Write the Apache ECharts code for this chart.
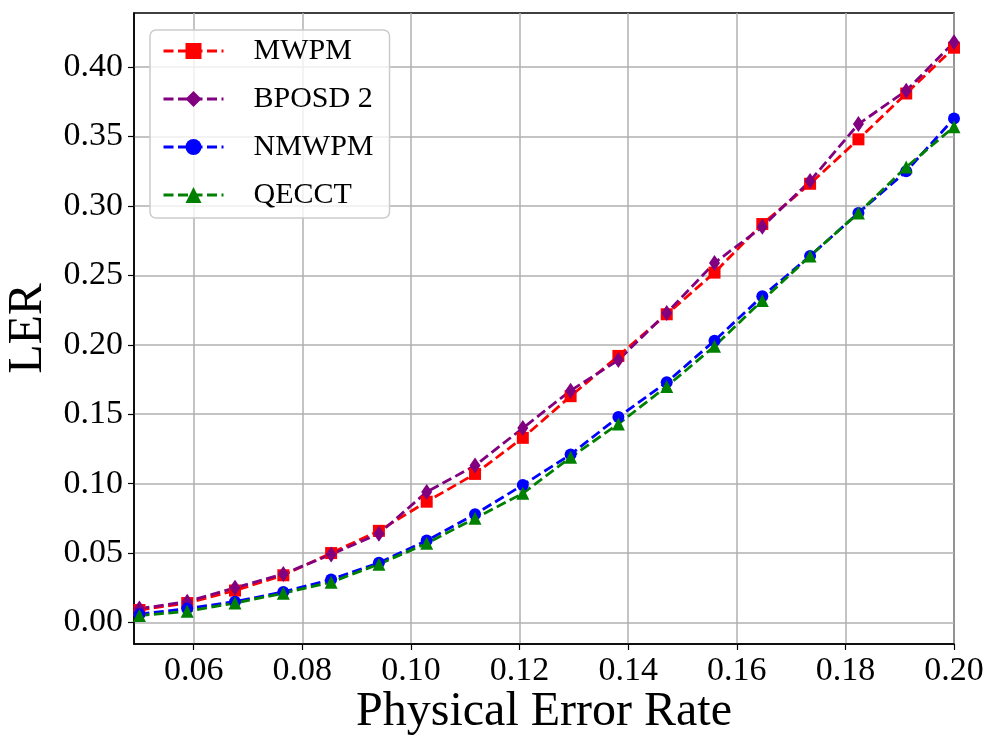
<!DOCTYPE html>
<html>
<head>
<meta charset="utf-8">
<script src="https://cdn.jsdelivr.net/npm/echarts@6/dist/echarts.min.js"></script>
<style>
html,body{margin:0;padding:0;background:#fff;}
#chart{width:997px;height:750px;}
</style>
</head>
<body>
<div id="chart"></div>
<script>
var errorRates = [0.05, 0.0588, 0.0676, 0.0765, 0.0853, 0.0941, 0.1029, 0.1118, 0.1206, 0.1294, 0.1382, 0.1471, 0.1559, 0.1647, 0.1735, 0.1824, 0.1912, 0.2];
var mwpm   = [0.009, 0.014, 0.023, 0.034, 0.050, 0.066, 0.087, 0.107, 0.133, 0.163, 0.192, 0.222, 0.252, 0.287, 0.316, 0.348, 0.381, 0.414];
var bposd2 = [0.010, 0.015, 0.025, 0.035, 0.049, 0.064, 0.094, 0.113, 0.140, 0.167, 0.189, 0.223, 0.259, 0.285, 0.318, 0.359, 0.383, 0.418];
var nmwpm  = [0.006, 0.010, 0.015, 0.022, 0.031, 0.043, 0.059, 0.078, 0.099, 0.121, 0.148, 0.173, 0.203, 0.235, 0.264, 0.295, 0.325, 0.363];
var qecct  = [0.005, 0.008, 0.014, 0.021, 0.029, 0.042, 0.057, 0.075, 0.093, 0.119, 0.143, 0.170, 0.199, 0.232, 0.264, 0.295, 0.328, 0.357];
var xTicks = [0.06, 0.08, 0.10, 0.12, 0.14, 0.16, 0.18, 0.20];
var yTicks = [0.00, 0.05, 0.10, 0.15, 0.20, 0.25, 0.30, 0.35, 0.40];
var seriesNames = ['MWPM', 'BPOSD 2', 'NMWPM', 'QECCT'];

var FONT = "Liberation Serif";

function pairs(ys) {
  return errorRates.map(function (x, i) { return [x, ys[i]]; });
}

function mk(name, ys, color, symbol, size) {
  return {
    name: name,
    type: 'line',
    data: pairs(ys),
    symbol: symbol,
    symbolSize: size,
    showAllSymbol: true,
    itemStyle: { color: color },
    lineStyle: { color: color, width: 2.8, type: [10, 4.5] },
    emphasis: { disabled: true },
    animation: false
  };
}

var chart = echarts.init(document.getElementById('chart'), null, { renderer: 'canvas' });
chart.setOption({
  backgroundColor: '#fff',
  animation: false,
  textStyle: { fontFamily: FONT },
  grid: {
    left: 134, right: 43, top: 13, bottom: 106,
    outerBoundsMode: 'none',
    containLabel: false,
    show: true, borderColor: '#000', borderWidth: 1.5, backgroundColor: 'transparent'
  },
  legend: {
    orient: 'vertical',
    left: 150, top: 30,
    data: seriesNames,
    itemWidth: 60, itemHeight: 20,
    itemGap: 18,
    padding: [6, 16, 8, 12],
    backgroundColor: 'rgba(255,255,255,0.8)',
    borderColor: '#cccccc', borderWidth: 1.5, borderRadius: 6,
    lineStyle: { width: 3 },
    textStyle: { fontFamily: FONT, fontSize: 30, color: '#000', padding: [0, 0, 0, 25] }
  },
  xAxis: {
    type: 'value',
    min: 0.049, max: 0.2,
    name: 'Physical Error Rate',
    nameLocation: 'middle',
    nameGap: 44,
    nameMoveOverlap: false,
    nameTextStyle: { fontFamily: FONT, fontSize: 48, color: '#000' },
    axisLine: { show: true, onZero: false, lineStyle: { color: '#000', width: 1.5 } },
    axisTick: { show: true, inside: false, length: 6, customValues: xTicks, lineStyle: { color: '#000', width: 1.2 } },
    axisLabel: {
      customValues: xTicks, margin: 10, color: '#000', fontFamily: FONT, fontSize: 34,
      formatter: function (v) { return v.toFixed(2); }
    },
    splitLine: { show: true, lineStyle: { color: '#b0b0b0', width: 1.5 } }
  },
  yAxis: {
    type: 'value',
    min: -0.0155, max: 0.439,
    name: 'LER',
    nameLocation: 'middle',
    nameGap: 82,
    nameMoveOverlap: false,
    nameTextStyle: { fontFamily: FONT, fontSize: 48, color: '#000' },
    axisLine: { show: true, onZero: false, lineStyle: { color: '#000', width: 1.5 } },
    axisTick: { show: true, inside: false, length: 6, customValues: yTicks, lineStyle: { color: '#000', width: 1.2 } },
    axisLabel: {
      customValues: yTicks, margin: 11, color: '#000', fontFamily: FONT, fontSize: 34,
      formatter: function (v) { return v.toFixed(2); }
    },
    splitLine: { show: true, lineStyle: { color: '#b0b0b0', width: 1.5 } }
  },
  series: [
    mk(seriesNames[0], mwpm, '#ff0000', 'rect', 12),
    mk(seriesNames[1], bposd2, '#800080', 'diamond', [11, 16]),
    mk(seriesNames[2], nmwpm, '#0000ff', 'circle', 12),
    mk(seriesNames[3], qecct, '#008000', 'triangle', 13)
  ]
});
</script>
</body>
</html>
